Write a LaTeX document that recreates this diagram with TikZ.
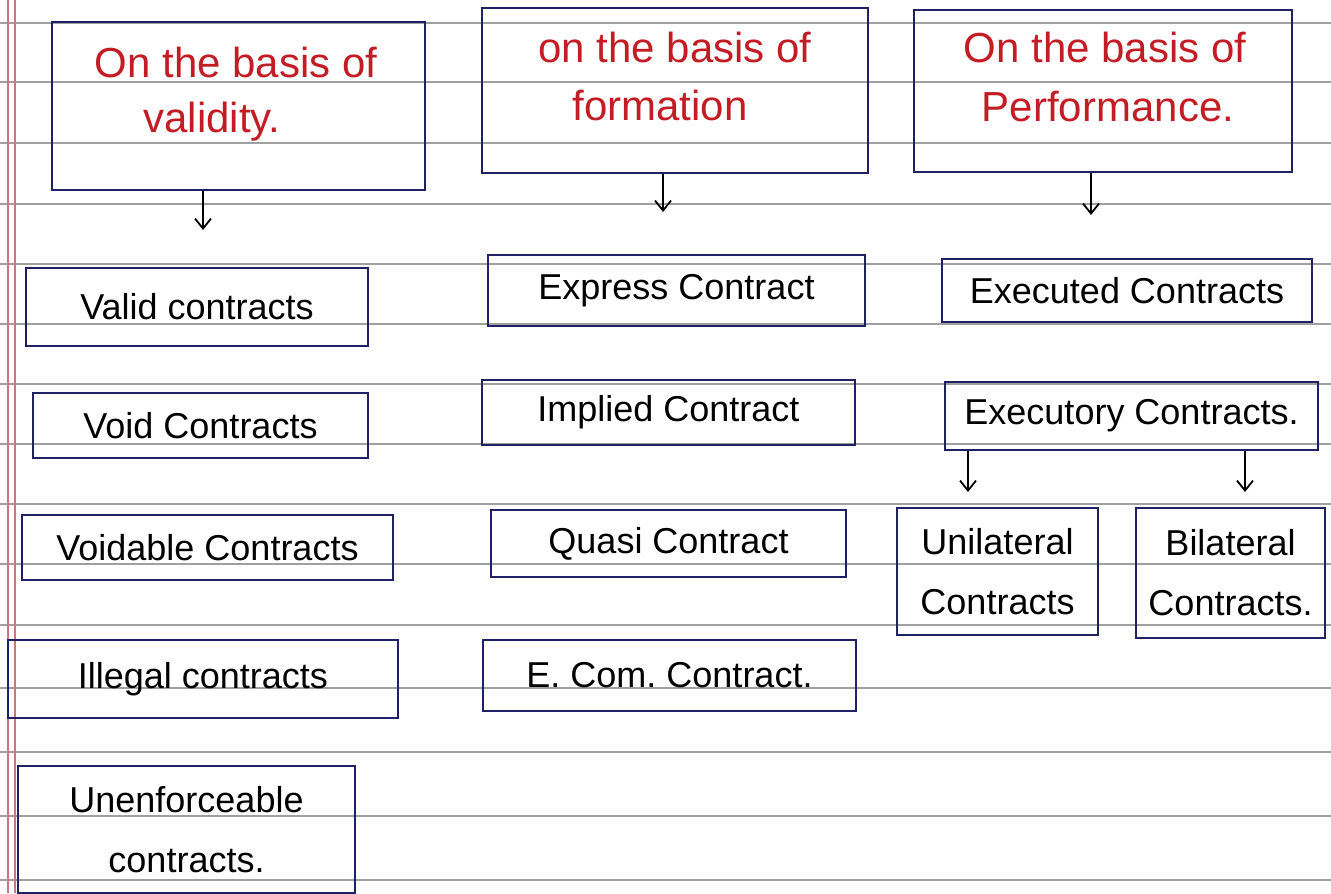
\documentclass[tikz,border=0pt]{standalone}
\usepackage{fontspec}
\setmainfont{Liberation Sans}
\usetikzlibrary{fit,arrows.meta}
\frenchspacing
\definecolor{navy}{RGB}{32,32,100}
\definecolor{inkred}{RGB}{196,28,36}
\definecolor{rulegrey}{RGB}{160,160,160}
\definecolor{marginred}{RGB}{200,120,130}
\tikzset{
  box/.style={draw=navy, line width=1.3pt, inner sep=0pt},
  lbl/.style={inner sep=0pt, font=\fontsize{18}{30}\selectfont, align=center, text=black},
  head/.style={text=inkred, font=\fontsize{21}{26}\selectfont, inner sep=0pt},
  arr/.style={-{Straight Barb[length=5pt,width=8pt]}, line width=0.9pt, black},
  rule/.style={rulegrey, line width=0.7pt},
  margin/.style={marginred, line width=0.6pt}
}
\begin{document}
\begin{tikzpicture}[x=0.5pt,y=-0.5pt]
\useasboundingbox (0,0) rectangle (1331,893);
\fill[white] (0,0) rectangle (1331,893);
% ruled paper
\foreach \yy in {23,82,143,204,264,324,384,444,504,564,625,688,752,816,880}
  \draw[rule] (0,\yy) -- (1331,\yy);
\draw[margin] (8,0) -- (8,893);
\draw[margin] (15,0) -- (15,893);
% heading boxes
\node[box, fit={(52,22) (425,190)}] (h1) {};
\node[box, fit={(482,8) (868,173)}] (h2) {};
\node[box, fit={(914,10) (1292,172)}] (h3) {};
\node[head] (h1a) at (236,62) {On the basis of};
\node[head] (h1b) at (212,122) {validity.};
\node[head] (h2a) at (675,47) {on the basis of};
\node[head] (h2b) at (660,105) {formation};
\node[head] (h3a) at (1105,47) {On the basis of};
\node[head] (h3b) at (1108,107) {Performance.};
% arrows under headings
\coordinate (a1) at (203,230);
\coordinate (a2) at (663,212);
\coordinate (a3) at (1091,215);
\draw[arr] (h1.south -| a1) -- (a1);
\draw[arr] (h2.south -| a2) -- (a2);
\draw[arr] (h3.south -| a3) -- (a3);
% column 1
\node[box, fit={(26,268) (368,346)}] (c11) {};
\node[box, fit={(33,393) (368,458)}] (c12) {};
\node[box, fit={(22,515) (393,580)}] (c13) {};
\node[box, fit={(8,640) (398,718)}] (c14) {};
\node[box, fit={(18,766) (355,893)}] (c15) {};
\node[lbl] (l11) at (c11.center) {Valid contracts};
\node[lbl] (l12) at (c12.center) {Void Contracts};
\node[lbl] (l13) at (c13.center) {Voidable Contracts};
\node[lbl] (l14) at (c14.center) {Illegal contracts};
\node[lbl] (l15) at (c15.center) {Unenforceable\\contracts.};
% column 2
\node[box, fit={(488,255) (865,326)}] (c21) {};
\node[box, fit={(482,380) (855,445)}] (c22) {};
\node[box, fit={(491,510) (846,577)}] (c23) {};
\node[box, fit={(483,640) (856,711)}] (c24) {};
\node[lbl] (l21) at (c21.center) {Express Contract};
\node[lbl] (l22) at (c22.center) {Implied Contract};
\node[lbl] (l23) at (c23.center) {Quasi Contract};
\node[lbl] (l24) at (c24.center) {E. Com. Contract.};
% column 3
\node[box, fit={(942,259) (1312,322)}] (c31) {};
\node[box, fit={(945,382) (1318,450)}] (c32) {};
\node[box, fit={(897,508) (1098,635)}] (c33) {};
\node[box, fit={(1136,508) (1325,638)}] (c34) {};
\node[lbl] (l31) at (c31.center) {Executed Contracts};
\node[lbl] (l32) at (c32.center) {Executory Contracts.};
\node[lbl] (l33) at (c33.center) {Unilateral\\Contracts};
\node[lbl] (l34) at (c34.center) {Bilateral\\Contracts.};
\coordinate (u1) at (968,492);
\coordinate (u2) at (1245,492);
\draw[arr] (c32.south -| u1) -- (u1);
\draw[arr] (c32.south -| u2) -- (u2);
\end{tikzpicture}
\end{document}
